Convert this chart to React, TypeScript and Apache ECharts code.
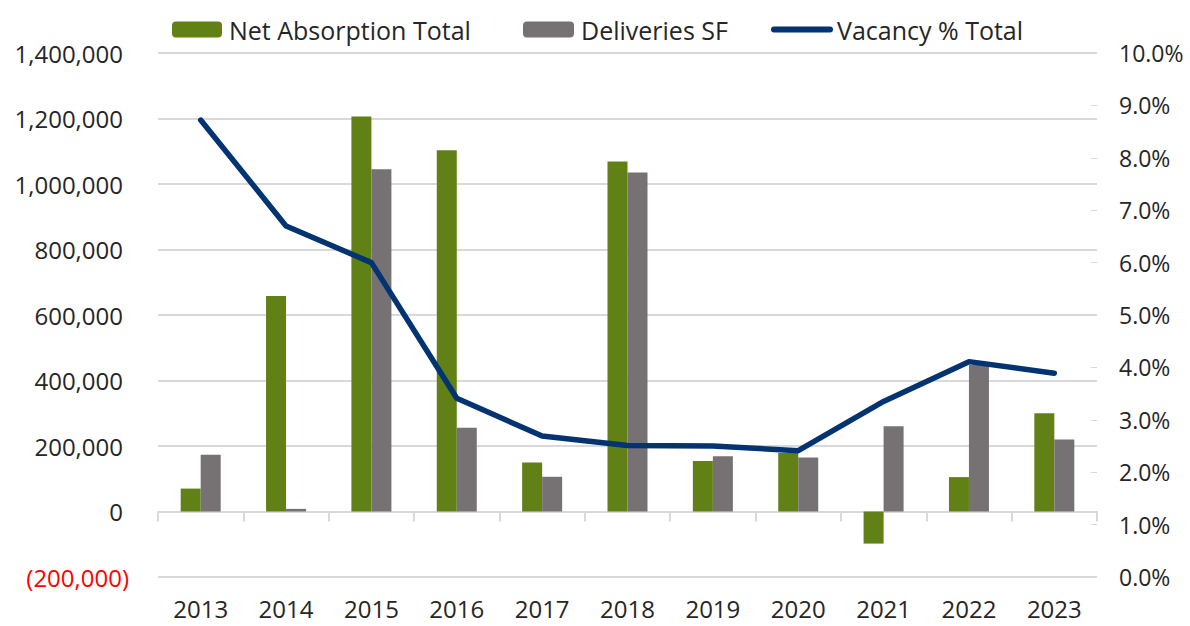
import React, { useEffect, useRef } from "react";
import * as echarts from "echarts";

const years = ["2013", "2014", "2015", "2016", "2017", "2018", "2019", "2020", "2021", "2022", "2023"];
const netAbsorption = [70000, 658000, 1206000, 1103000, 150000, 1069000, 154000, 179000, -98000, 105000, 300000];
const deliveries = [173000, 8000, 1045000, 256000, 106000, 1035000, 169000, 165000, 260000, 448000, 220000];
const vacancy = [8.72, 6.7, 6.0, 3.41, 2.69, 2.51, 2.5, 2.41, 3.35, 4.11, 3.89];

const FONT = "'Open Sans', 'Noto Sans', sans-serif";
const TEXT = "#262626";
const GREEN = "#618016";
const GRAY = "#767172";
const NAVY = "#033371";

export default function App() {
  const ref = useRef<HTMLDivElement>(null);
  useEffect(() => {
    if (!ref.current) return;
    const chart = echarts.init(ref.current, undefined, { renderer: "svg" });
    const fmtNum = (v: number) => Math.abs(v).toLocaleString("en-US");
    const legendText = { fontSize: 25, color: TEXT, fontFamily: FONT, padding: [0, 0, 0, 2] };
    chart.setOption({
      animation: false,
      backgroundColor: "#ffffff",
      textStyle: { fontFamily: FONT },
      legend: [
        {
          left: 167,
          top: 12,
          itemWidth: 50,
          itemHeight: 16,
          textStyle: legendText,
          data: [{ name: "Net Absorption Total" }],
        },
        {
          left: 518,
          top: 12,
          itemWidth: 51,
          itemHeight: 16,
          textStyle: legendText,
          data: [{ name: "Deliveries SF" }],
        },
        {
          left: 766,
          top: 12,
          itemWidth: 56,
          itemHeight: 16,
          textStyle: legendText,
          data: [
            {
              name: "Vacancy % Total",
              itemStyle: { opacity: 0 },
              lineStyle: { width: 6, cap: "round", color: NAVY },
            },
          ],
        },
      ],
      grid: { left: 158, right: 93, top: 53, bottom: 49, containLabel: false },
      xAxis: [
        {
          type: "category",
          data: years,
          position: "bottom",
          axisLine: { show: false },
          axisTick: { show: false },
          axisLabel: { fontSize: 24, color: TEXT, margin: 19, fontFamily: FONT },
        },
        {
          type: "category",
          data: years,
          position: "bottom",
          axisLine: { show: true, onZero: true, onZeroAxisIndex: 0, lineStyle: { color: "#d9d9d9", width: 2 } },
          axisTick: { show: true, length: 10, lineStyle: { color: "#d9d9d9", width: 2 } },
          axisLabel: { show: false },
        },
      ],
      yAxis: [
        {
          type: "value",
          min: -200000,
          max: 1400000,
          interval: 200000,
          axisLine: { show: false },
          axisTick: { show: false },
          splitLine: { show: true, lineStyle: { color: "#d9d9d9", width: 2 } },
          axisLabel: {
            fontSize: 24,
            color: TEXT,
            margin: 35,
            fontFamily: FONT,
            formatter: (v: number) => (v < 0 ? `{neg|(${fmtNum(v)})}` : fmtNum(v)),
            rich: { neg: { color: "#ff0000", fontSize: 24, fontFamily: FONT, padding: [0, -6, 0, 0] } },
          },
        },
        {
          type: "value",
          min: 0,
          max: 10,
          interval: 1,
          position: "right",
          axisLine: { show: false },
          axisTick: { show: true, inside: true, length: 6, lineStyle: { color: "#d9d9d9", width: 1 } },
          splitLine: { show: false },
          axisLabel: {
            fontSize: 23,
            color: TEXT,
            margin: 22,
            fontFamily: FONT,
            formatter: (v: number) => `${v.toFixed(1)}%`,
          },
        },
      ],
      series: [
        {
          name: "Net Absorption Total",
          type: "bar",
          xAxisIndex: 0,
          yAxisIndex: 0,
          data: netAbsorption,
          barWidth: 20,
          barGap: "0%",
          itemStyle: { color: GREEN },
        },
        {
          name: "Deliveries SF",
          type: "bar",
          xAxisIndex: 0,
          yAxisIndex: 0,
          data: deliveries,
          barWidth: 20,
          barGap: "0%",
          itemStyle: { color: GRAY },
        },
        {
          name: "Vacancy % Total",
          type: "line",
          xAxisIndex: 0,
          yAxisIndex: 1,
          data: vacancy,
          symbol: "none",
          lineStyle: { color: NAVY, width: 5.5, cap: "round", join: "round" },
          itemStyle: { color: NAVY },
          z: 5,
        },
      ],
    });
    return () => chart.dispose();
  }, []);
  return <div ref={ref} style={{ width: 1190, height: 626, position: "absolute", left: 0, top: 0 }} />;
}
